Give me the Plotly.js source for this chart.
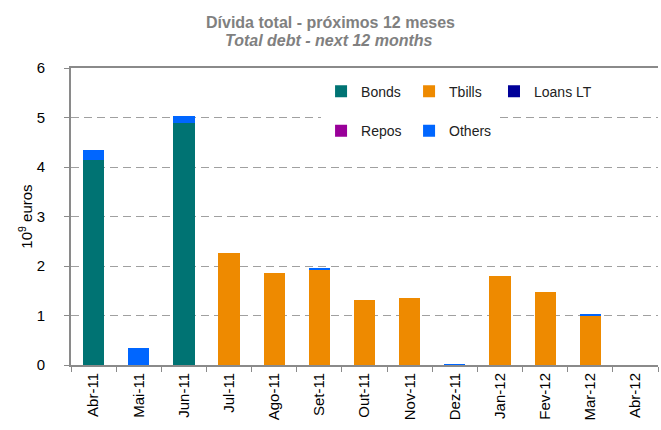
<!DOCTYPE html>
<html><head><meta charset="utf-8">
<script src="https://cdn.plot.ly/plotly-3.0.1.min.js"></script>
<style>html,body{margin:0;padding:0;background:#fff}#chart{width:661px;height:430px}</style>
</head><body><div id="chart"></div>
<script>
const categories = ['Abr-11','Mai-11','Jun-11','Jul-11','Ago-11','Set-11','Out-11','Nov-11','Dez-11','Jan-12','Fev-12','Mar-12','Abr-12'];
const bonds   = [4.15, 0, 4.88, 0, 0, 0, 0, 0, 0, 0, 0, 0, 0];
const tbills  = [0, 0, 0, 2.26, 1.86, 1.92, 1.31, 1.35, 0, 1.79, 1.47, 1.00, 0];
const loansLT = [0, 0, 0, 0, 0, 0, 0, 0, 0, 0, 0, 0, 0];
const repos   = [0, 0, 0, 0, 0, 0, 0, 0, 0, 0, 0, 0, 0];
const others  = [0.20, 0.34, 0.16, 0, 0, 0.04, 0, 0, 0.03, 0, 0, 0.03, 0];

const seriesNames = ['Bonds','Tbills','Loans LT','Repos','Others'];
const seriesData = [bonds, tbills, loansLT, repos, others];
const colors = ['#007373','#EE8A00','#000099','#990099','#0066FF'];
const legendIds = ['legend','legend','legend3','legend2','legend2'];
const titleLine1 = 'Dívida total - próximos 12 meses';
const titleLine2 = 'Total debt - next 12 months';

const traces = seriesNames.map((n,i)=>({
  type:'bar', name:n, x:categories, y:seriesData[i],
  marker:{color:colors[i], line:{width:0}},
  legend:legendIds[i], hoverinfo:'skip'
}));

const legendCommon = {
  orientation:'h', xanchor:'left', yanchor:'middle',
  bgcolor:'#ffffff', borderwidth:0, entrywidth:43,
  font:{family:'Arial, Liberation Sans, sans-serif', size:14, color:'#222'},
  traceorder:'normal', itemclick:false
};

const layout = {
  width:661, height:430,
  margin:{l:71, r:3, t:68, b:65},
  paper_bgcolor:'#fff', plot_bgcolor:'#fff',
  barmode:'stack', bargap:0.53,
  font:{family:'Arial, Liberation Sans, sans-serif', color:'#000'},
  title:{
    text:'<b>' + titleLine1 + '</b>',
    x:0.5, xanchor:'center', y:0.962, yref:'container', yanchor:'top',
    font:{family:'Arial, Liberation Sans, sans-serif', size:16, color:'#808080'}
  },
  annotations:[{
    text:'<b><i>' + titleLine2 + '</i></b>', xref:'paper', yref:'paper',
    x:0.44, y:1.0, yshift:28, xanchor:'center', yanchor:'middle', showarrow:false,
    font:{family:'Arial, Liberation Sans, sans-serif', size:16, color:'#808080'}
  }],
  xaxis:{
    type:'category', tickangle:-90,
    tickfont:{size:15, color:'#000'},
    showline:true, linecolor:'#8a8a8a', linewidth:2, mirror:true,
    ticks:'outside', tickson:'boundaries', ticklen:5, tickcolor:'#8a8a8a',
    showgrid:false, fixedrange:true
  },
  yaxis:{
    range:[0,6], dtick:1, tick0:0,
    tickfont:{size:15, color:'#000'},
    showline:true, linecolor:'#8a8a8a', linewidth:2,
    ticks:'outside', ticklen:5, tickcolor:'#8a8a8a', ticklabelstandoff:16,
    showgrid:true, gridcolor:'#a0a0a0', gridwidth:1, griddash:'8px,5px',
    zeroline:false,
    title:{text:'10<sup>9</sup> euros', font:{size:15, color:'#000'}, standoff:0},
    fixedrange:true
  },
  legend:Object.assign({}, legendCommon, {x:0.426, y:0.92}),
  legend3:Object.assign({}, legendCommon, {x:0.7206, y:0.92, entrywidth:0}),
  legend2:Object.assign({}, legendCommon, {x:0.426, y:0.787}),
  showlegend:true
};

Plotly.newPlot('chart', traces, layout, {displayModeBar:false, staticPlot:true});
</script></body></html>
